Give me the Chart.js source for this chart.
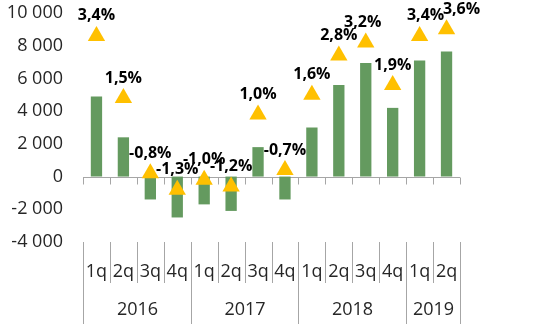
<!DOCTYPE html>
<html>
<head>
<meta charset="utf-8">
<script src="https://cdn.jsdelivr.net/npm/chart.js@4.4.1/dist/chart.umd.min.js"></script>
<style>
    html, body { margin: 0; padding: 0; background: #fff; }
    #wrap { width: 533px; height: 324px; position: relative; }
</style>
</head>
<body>
<div id="wrap"><canvas id="chart"></canvas></div>
<script>
// Chart data
const quarters = ['1q', '2q', '3q', '4q', '1q', '2q', '3q', '4q', '1q', '2q', '3q', '4q', '1q', '2q'];
const years = ['2016', '2017', '2018', '2019'];
const quartersPerYear = [4, 4, 4, 2];
const barValues = [4900, 2400, -1400, -2500, -1700, -2100, 1800, -1400, 3000, 5600, 6950, 4200, 7100, 7650];
const growthValues = [3.4, 1.5, -0.8, -1.3, -1.0, -1.2, 1.0, -0.7, 1.6, 2.8, 3.2, 1.9, 3.4, 3.6];
const yTicks = [-4000, -2000, 0, 2000, 4000, 6000, 8000, 10000];

const FONT = '"Open Sans", "DejaVu Sans", sans-serif';
const LINE_COLOR = '#a6a6a6';
const TEXT_COLOR = '#262626';

function formatThousands(v) {
    const s = Math.abs(v).toString().replace(/\B(?=(\d{3})+(?!\d))/g, ' ');
    return (v < 0 ? '-' : '') + s;
}

function formatPercent(v) {
    return v.toFixed(1).replace('.', ',') + '%';
}

// Zero line, tick marks and the two-level category separators
const axisPlugin = {
    id: 'excelAxis',
    beforeDatasetsDraw(chart) {
        const { ctx, chartArea, scales: { x, y } } = chart;
        const zeroY = Math.round(y.getPixelForValue(0)) + 0.5;
        const half = (x.getPixelForValue(1) - x.getPixelForValue(0)) / 2;
        ctx.save();
        ctx.strokeStyle = LINE_COLOR;
        ctx.lineWidth = 1;
        ctx.beginPath();
        ctx.moveTo(chartArea.left, zeroY);
        ctx.lineTo(chartArea.right, zeroY);
        for (let i = 0; i <= quarters.length; i++) {
            const bx = Math.round(x.getPixelForValue(0) - half + i * half * 2) + 0.5;
            ctx.moveTo(bx, zeroY);
            ctx.lineTo(bx, zeroY + 7);
        }
        ctx.stroke();
        ctx.restore();
    },
    afterDraw(chart) {
        const { ctx, chartArea, scales: { x } } = chart;
        const half = (x.getPixelForValue(1) - x.getPixelForValue(0)) / 2;
        const top = chartArea.bottom;
        const boundary = i => Math.round(x.getPixelForValue(0) - half + i * half * 2) + 0.5;

        const yearStarts = [0];
        quartersPerYear.forEach(n => yearStarts.push(yearStarts[yearStarts.length - 1] + n));

        ctx.save();
        ctx.strokeStyle = LINE_COLOR;
        ctx.lineWidth = 1;
        ctx.beginPath();
        for (let i = 0; i <= quarters.length; i++) {
            const isYear = yearStarts.includes(i);
            ctx.moveTo(boundary(i), top);
            ctx.lineTo(boundary(i), isYear ? chart.height : top + 41);
        }
        ctx.stroke();

        ctx.fillStyle = TEXT_COLOR;
        ctx.font = '18px ' + FONT;
        ctx.textAlign = 'center';
        ctx.textBaseline = 'middle';
        years.forEach((yr, k) => {
            const cx = (boundary(yearStarts[k]) + boundary(yearStarts[k + 1])) / 2;
            ctx.fillText(yr, cx, 310);
        });
        ctx.restore();
    }
};

// Percentage labels above the triangles
const labelPlugin = {
    id: 'growthLabels',
    afterDatasetsDraw(chart, args, opts) {
        const { ctx } = chart;
        const meta = chart.getDatasetMeta(0);
        const shifts = opts.shiftX || [];
        ctx.save();
        ctx.fillStyle = '#000';
        ctx.font = 'bold 16px ' + FONT;
        ctx.textAlign = 'center';
        ctx.textBaseline = 'middle';
        meta.data.forEach((pt, i) => {
            ctx.fillText(formatPercent(growthValues[i]), pt.x + (shifts[i] || 0), pt.y - 20);
        });
        ctx.restore();
    }
};

const ctx = document.getElementById('chart').getContext('2d');
new Chart(ctx, {
    type: 'bar',
    data: {
        labels: quarters,
        datasets: [
            {
                type: 'line',
                data: growthValues,
                yAxisID: 'y1',
                showLine: false,
                pointStyle: 'triangle',
                pointRadius: 10,
                pointBackgroundColor: '#ffc000',
                pointBorderColor: '#ffc000',
                pointBorderWidth: 0,
                clip: false,
                order: 0
            },
            {
                type: 'bar',
                data: barValues,
                yAxisID: 'y',
                backgroundColor: '#649a5f',
                barPercentage: 0.42,
                categoryPercentage: 1,
                order: 1
            }
        ]
    },
    options: {
        responsive: true,
        maintainAspectRatio: false,
        animation: false,
        events: [],
        layout: { autoPadding: false, padding: { top: 13, right: 73, left: 0, bottom: 0 } },
        plugins: {
            legend: { display: false },
            tooltip: { enabled: false },
            growthLabels: { shiftX: [0, 0, 0, 0, 0, 0, 0, 0, 0, 0, -3, 0, 6, 15] }
        },
        scales: {
            x: {
                grid: { display: false, drawTicks: false },
                border: { display: false },
                ticks: {
                    padding: 19,
                    color: TEXT_COLOR,
                    font: { family: FONT, size: 18 },
                    maxRotation: 0,
                    autoSkip: false
                },
                afterFit(scale) { scale.height = 82; }
            },
            y: {
                min: -4000,
                max: 10000,
                grid: { display: false, drawTicks: false },
                border: { display: false },
                afterBuildTicks(scale) { scale.ticks = yTicks.map(v => ({ value: v })); },
                ticks: {
                    padding: 20,
                    color: TEXT_COLOR,
                    font: { family: FONT, size: 18 },
                    callback: v => formatThousands(v)
                },
                afterFit(scale) {
                    scale.width = 83;
                    scale.paddingTop = 0;
                    scale.paddingBottom = 0;
                }
            },
            // hidden secondary axis for the growth rate (%)
            y1: {
                display: false,
                min: -2.9,
                max: 4.1
            }
        }
    },
    plugins: [axisPlugin, labelPlugin]
});
</script>
</body>
</html>
